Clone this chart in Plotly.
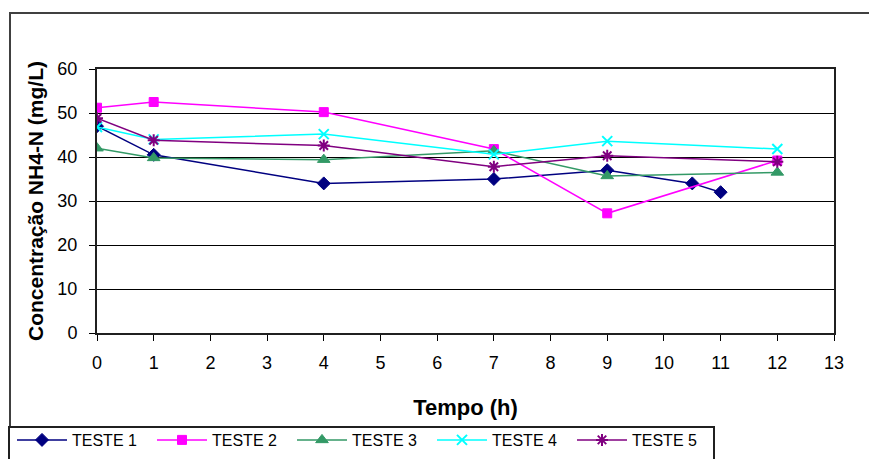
import plotly.graph_objects as go

# Sampling times (h) and NH4-N concentrations (mg/L) for each test
tempo_t1 = [0, 1, 4, 7, 9, 10.5, 11]
teste1 = [47, 40.5, 34, 35, 37, 34, 32]

tempo = [0, 1, 4, 7, 9, 12]
teste2 = [51.2, 52.5, 50.2, 41.8, 27.2, 39.2]
teste3 = [42, 39.8, 39.4, 41.4, 35.7, 36.5]
teste4 = [46.8, 44, 45.2, 40.6, 43.6, 41.8]
teste5 = [48.8, 43.8, 42.6, 37.8, 40.3, 38.9]

x_ticks = list(range(0, 14))
y_ticks = list(range(0, 61, 10))

FONT = "Liberation Sans, Arial, sans-serif"
W, H = 869, 459

series = [
    ("TESTE 1", tempo_t1, teste1, "#000080", "diamond", 10, 1),
    ("TESTE 2", tempo, teste2, "#FF00FF", "square", 9, 1),
    ("TESTE 3", tempo, teste3, "#339966", "triangle-up", 11, 1),
    ("TESTE 4", tempo, teste4, "#00FFFF", "x-thin-open", 10, 2),
    ("TESTE 5", tempo, teste5, "#800080", "asterisk-open", 10, 2),
]

fig = go.Figure()
for name, xs, ys, color, symbol, size, lw in series:
    fig.add_trace(go.Scatter(
        x=xs, y=ys, name=name, mode="lines+markers",
        line=dict(color=color, width=1.5),
        marker=dict(symbol=symbol, size=size, color=color,
                    line=dict(color=color, width=lw)),
    ))

def px_x(p):
    return (p - 97) / 737

def px_y(p):
    return (333 - p) / 264

# chart frame around the whole graphic
fig.add_shape(type="rect", xref="paper", yref="paper",
              x0=px_x(10), x1=px_x(890), y0=px_y(480), y1=px_y(13),
              line=dict(color="#404040", width=2), layer="below")
# legend box
fig.add_shape(type="rect", xref="paper", yref="paper",
              x0=px_x(9), x1=px_x(714), y0=px_y(480), y1=px_y(427),
              line=dict(color="#202020", width=2), fillcolor="white", layer="below")

fig.update_layout(
    width=W, height=H,
    margin=dict(l=97, r=35, t=69, b=126),
    paper_bgcolor="white", plot_bgcolor="white",
    font=dict(family=FONT, color="black"),
    showlegend=True,
    legend=dict(
        orientation="h", xref="container", yref="container",
        x=12 / W, y=1 - 440 / H,
        xanchor="left", yanchor="middle",
        borderwidth=0, bgcolor="rgba(0,0,0,0)",
        font=dict(size=16, family=FONT),
        itemwidth=50,
        entrywidth=75, entrywidthmode="pixels",
    ),
)

fig.update_xaxes(
    range=[0, 13], tickvals=x_ticks, ticktext=[str(v) for v in x_ticks],
    showgrid=False, zeroline=False, automargin=False,
    showline=True, linecolor="#202020", linewidth=2, mirror=True,
    ticks="outside", ticklen=6, tickcolor="black", tickwidth=1,
    ticklabelstandoff=6,
    tickfont=dict(size=18, family=FONT),
    title=dict(text="<b>Tempo (h)</b>", font=dict(size=22, family=FONT), standoff=28),
)
fig.update_yaxes(
    range=[0, 60], tickvals=y_ticks,
    showgrid=True, gridcolor="black", gridwidth=1, zeroline=False, automargin=False,
    showline=True, linecolor="#202020", linewidth=2, mirror=True,
    ticks="outside", ticklen=6, tickcolor="black", tickwidth=1,
    ticklabelstandoff=8,
    tickfont=dict(size=18, family=FONT),
    title=dict(text="<b>Concentração NH4-N (mg/L)</b>", font=dict(size=21, family=FONT), standoff=8),
)

fig.write_html("out.html")
